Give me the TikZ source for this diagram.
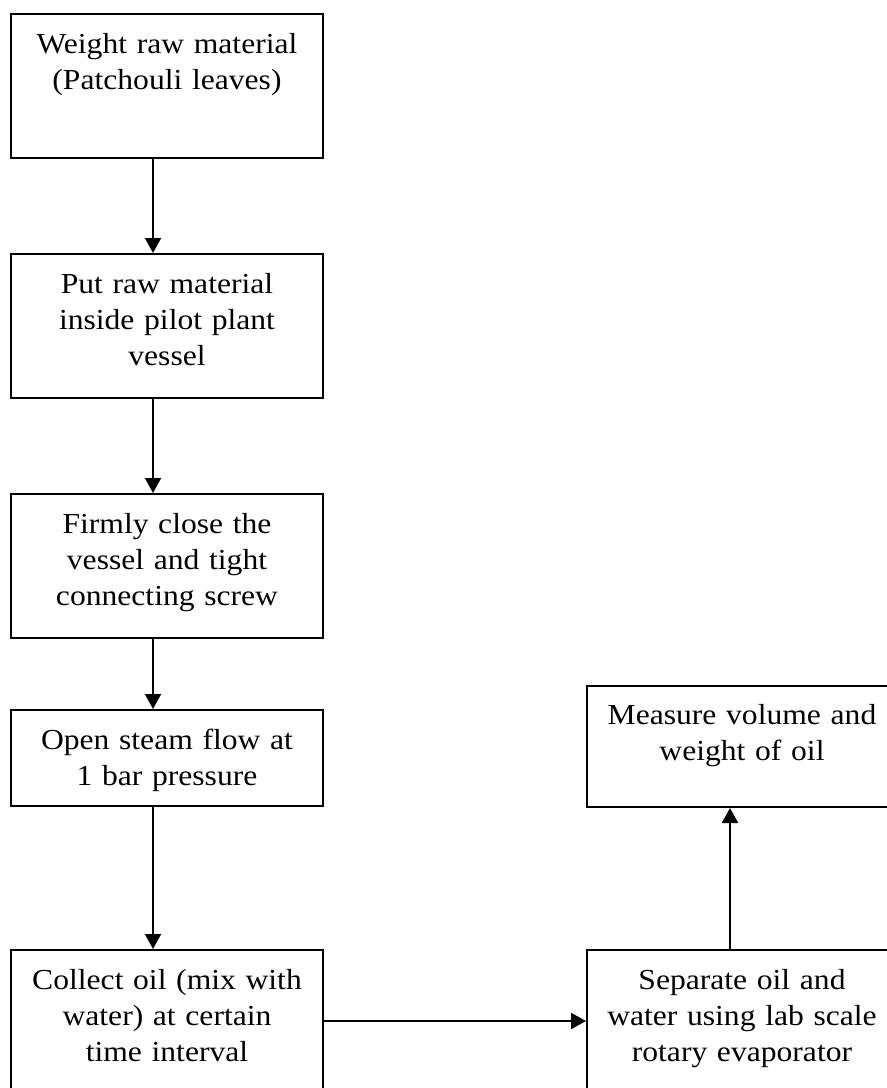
\documentclass[tikz,border=0pt]{standalone}
\usepackage{fontspec}
\setmainfont{Liberation Serif}[FakeStretch=1.09]
\usetikzlibrary{arrows.meta,calc}
\begin{document}
\begin{tikzpicture}[x=1pt,y=-1pt,
  box/.style={draw=black,line width=2pt,rectangle,inner sep=0pt,anchor=north west},
  txt/.style={text width=300pt,align=center,inner sep=0pt,anchor=base,
    font=\fontsize{29}{36}\selectfont},
  arr/.style={draw=black,line width=2pt,-{Triangle[length=15pt,width=16pt]}}]
\useasboundingbox (0,0) rectangle (887,1088);
% boxes
\node[box,minimum width=312pt,minimum height=144pt] (b1) at (10,13) {};
\node[box,minimum width=312pt,minimum height=144pt] (b2) at (10,253) {};
\node[box,minimum width=312pt,minimum height=144pt] (b3) at (10,493) {};
\node[box,minimum width=312pt,minimum height=96pt] (b4) at (10,709) {};
\node[box,minimum width=312pt,minimum height=160pt] (b5) at (10,949) {};
\node[box,minimum width=310pt,minimum height=160pt] (b6) at (586,949) {};
\node[box,minimum width=310pt,minimum height=121pt] (b7) at (586,685) {};
% texts
\node[txt] (t1) at ($(b1.north)+(0,40)$) {Weight raw material\\(Patchouli leaves)};
\node[txt] (t2) at ($(b2.north)+(0,40)$) {Put raw material\\inside pilot plant\\vessel};
\node[txt] (t3) at ($(b3.north)+(0,40)$) {Firmly close the\\vessel and tight\\connecting screw};
\node[txt] (t4) at ($(b4.north)+(0,40)$) {Open steam flow at\\1 bar pressure};
\node[txt] (t5) at ($(b5.north)+(0,40)$) {Collect oil (mix with\\water) at certain\\time interval};
\node[txt] (t6) at ($(b6.north)+(0,40)$) {Separate oil and\\water using lab scale\\rotary evaporator};
\node[txt] (t7) at ($(b7.north)+(0,39)$) {Measure volume and\\weight of oil};
% connectors
\coordinate (ax) at (153,0);
\coordinate (rx) at (730,0);
\coordinate (hy) at (0,1021);
\draw[arr] (b1.south -| ax) -- (b2.north -| ax);
\draw[arr] (b2.south -| ax) -- (b3.north -| ax);
\draw[arr] (b3.south -| ax) -- (b4.north -| ax);
\draw[arr] (b4.south -| ax) -- (b5.north -| ax);
\draw[arr] (b5.east |- hy) -- (b6.west |- hy);
\draw[arr] (b6.north -| rx) -- (b7.south -| rx);
\end{tikzpicture}
\end{document}
